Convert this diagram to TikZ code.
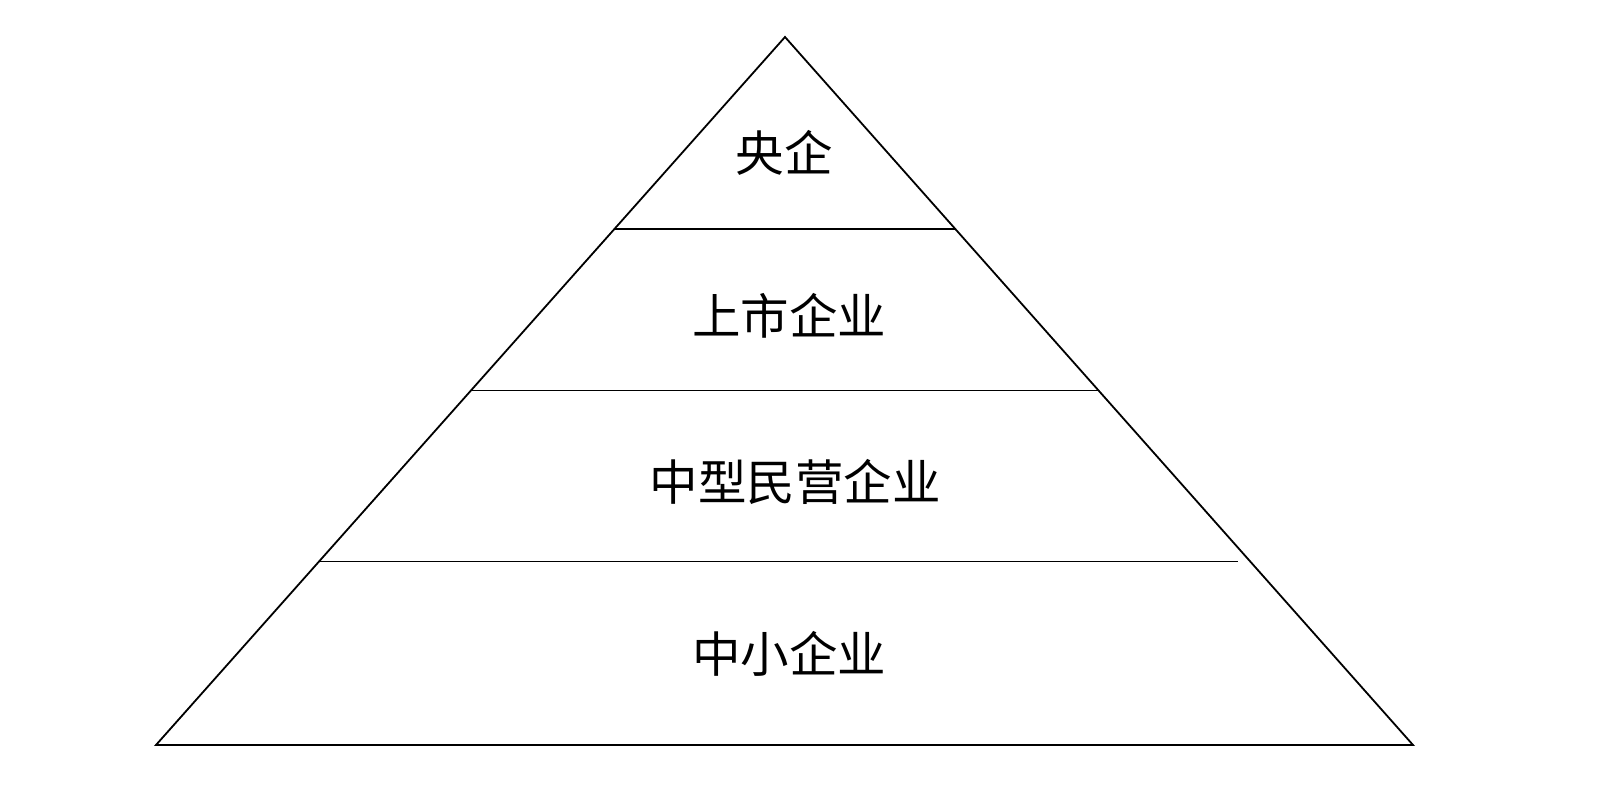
\documentclass[tikz,border=0pt]{standalone}
\usepackage{fontspec}
\newfontfamily\cjk{Noto Sans CJK SC}
\tikzset{
  edge/.style={line width=1.8pt, black},
  label/.style={font=\cjk\fontsize{48.5}{52}\selectfont, inner sep=0pt, anchor=center}
}
\begin{document}
\begin{tikzpicture}[x=1pt,y=-1pt]
\useasboundingbox (0,0) rectangle (1598,789);
\coordinate (apex) at (785,37);
\coordinate (bl) at (156,745);
\coordinate (br) at (1413,745);
\draw[edge, line join=miter] (apex) -- (bl) -- (br) -- cycle;
\coordinate (l1a) at (614.5,229);
\coordinate (l1b) at (955,229);
\coordinate (l2a) at (471,390.5);
\coordinate (l2b) at (1098.5,390.5);
\coordinate (l3a) at (318.5,561.5);
\coordinate (l3b) at (1238,561.5);
\draw[edge] (l1a) -- (l1b);
\draw[edge] (l2a) -- (l2b);
\draw[edge] (l3a) -- (l3b);
\node[label] (t1) at (784,153) {央企};
\node[label] (t2) at (789,316) {上市企业};
\node[label] (t3) at (795,482) {中型民营企业};
\node[label] (t4) at (789,654) {中小企业};
\end{tikzpicture}
\end{document}
